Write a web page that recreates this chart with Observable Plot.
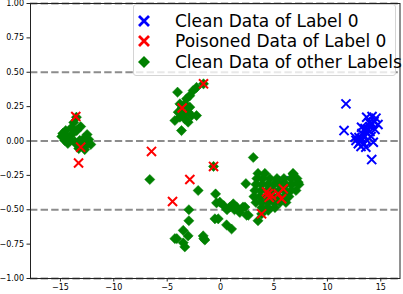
<!DOCTYPE html>
<html>
<head>
<meta charset="utf-8">
<script src="https://cdn.jsdelivr.net/npm/d3@7"></script>
<script src="https://cdn.jsdelivr.net/npm/@observablehq/plot@0.6"></script>
<style>
  html, body { margin: 0; padding: 0; background: #fff; }
  #wrap { position: relative; width: 403px; height: 294px; }
  #legend {
    position: absolute; left: 133px; top: 4px; width: 263px; height: 72px;
    border: 1px solid #d4d4d4; border-radius: 3px; background: rgba(255,255,255,0.8);
    font-family: "DejaVu Sans", sans-serif; font-size: 17px; color: #000;
    box-sizing: border-box;
  }
  .row { position: absolute; left: 0; height: 20px; display: flex; align-items: center; }
  .row svg { position: absolute; left: 3px; }
  .row span { position: absolute; left: 41px; white-space: nowrap; line-height: 20px; }
</style>
</head>
<body>
<div id="wrap"></div>
<script>
// ---- data ----
const seriesNames = ["Clean Data of Label 0", "Poisoned Data of Label 0", "Clean Data of other Labels"];
const seriesColors = ["#0000ff", "#ff0000", "#008000"];

const cleanLabel0 = [
  [11.74,0.27],[11.56,0.076],[13.68,0.173],[14.55,0.166],[13.2,0.1],[12.59,0.028],
  [12.9,-0.02],[13.6,-0.045],[14.3,-0.009],[14.15,-0.135],
  [13.05,-0.004],[13.24,0.018],[13.43,0.04],[13.62,0.062],[13.8,0.084],[13.99,0.105],
  [14.18,0.127],[14.37,0.142],[13.52,0.091],[13.99,0.069],[13.24,0.055],[12.96,0.025],
  [13.71,0.004],[13.43,-0.018],[14.09,0.033],[14.46,0.084],[14.74,0.12],[13.9,0.135],
  [12.68,0.004],[13.15,-0.04],[14.18,0.178],[5.87,-0.29]
];

const poisonedLabel0 = [
  [-13.56,0.178],[-13.1,-0.045],[-13.3,-0.16],[-3.6,0.24],[-1.6,0.416],[-6.47,-0.076],
  [-0.66,-0.185],[-2.88,-0.28],[-4.5,-0.44],[3.84,-0.53],[4.46,-0.384],[4.78,-0.396],
  [4.3,-0.37],[4.55,-0.41],[5.4,-0.384],[5.72,-0.42],[5.87,-0.348]
];

const cleanOther = [
  // left cluster
  [-13.5,0.173],[-13.75,0.135],[-13.94,0.098],[-14.5,0.076],[-14.78,0.055],[-14.87,0.033],
  [-14.4,0.025],[-13.94,0.047],[-13.47,0.076],[-13.1,0.105],[-14.1,0.004],[-13.66,-0.004],
  [-13.19,0.004],[-12.8,0.018],[-12.5,0.047],[-12.34,0.011],[-12.15,-0.025],[-12.62,-0.033],
  [-13.0,-0.025],[-13.47,-0.025],[-14.3,-0.018],[-14.6,0.004],[-13.28,-0.055],[-12.72,-0.062],
  [-14.5,0.04],
  // upper middle cluster
  [-2.25,0.39],[-2.57,0.367],[-2.88,0.33],[-3.19,0.307],[-4.03,0.355],[-1.6,0.416],
  [-3.81,0.27],[-3.35,0.27],[-3.97,0.21],[-3.5,0.198],[-3.04,0.21],[-2.88,0.246],
  [-3.81,0.173],[-3.35,0.16],[-2.72,0.185],[-2.25,0.185],[-4.28,0.149],[-3.04,0.137],
  [-3.66,0.076],[-3.6,0.24],
  // scattered
  [-0.66,-0.185],[3.06,-0.12],[-6.63,-0.28],[-2.1,-0.36],[-0.47,-0.385],[-2.97,-0.5],
  [-2.97,-0.58],[2.37,-0.31],[3.5,-0.58],
  // lower left cluster
  [-3.5,-0.65],[-4.1,-0.71],[-3.35,-0.77],[-3.04,-0.69],[-3.5,-0.74],[-4.28,-0.71],
  [-1.57,-0.71],[-1.63,-0.69],[-1.47,-0.72],
  // lower band
  [-0.22,-0.566],[0.56,-0.61],[1.03,-0.64],[-0.07,-0.445],[0.87,-0.48],[1.5,-0.48],
  [2.28,-0.48],[2.44,-0.54],[1.19,-0.457],[2.1,-0.48],[1.8,-0.52],[-0.53,-0.566],
  [0.3,-0.47],[0.6,-0.5],[1.3,-0.5],[-0.38,-0.45],
  // right mass
  [3.5,-0.236],[4.15,-0.236],[6.78,-0.236],
  [3.4,-0.273],[3.96,-0.273],[4.62,-0.273],[5.28,-0.273],[5.93,-0.273],[6.59,-0.273],[7.15,-0.273],
  [3.31,-0.316],[3.87,-0.316],[4.43,-0.316],[5.0,-0.316],[5.56,-0.316],[6.12,-0.316],[6.68,-0.316],[7.34,-0.316],
  [3.21,-0.36],[3.78,-0.36],[4.34,-0.36],[4.9,-0.36],[5.46,-0.36],[6.03,-0.36],[6.59,-0.36],[7.06,-0.36],
  [3.12,-0.404],[3.68,-0.404],[4.25,-0.404],[4.81,-0.404],[5.37,-0.404],[5.93,-0.404],[6.4,-0.404],
  [3.31,-0.447],[3.87,-0.447],[4.43,-0.447],[5.0,-0.447],[5.56,-0.447],[6.12,-0.447],
  [3.87,-0.484],[4.43,-0.484],[5.09,-0.484],
  [6.8,-0.24],[7.27,-0.30],[4.46,-0.505],[2.6,-0.54],[3.84,-0.53]
];

const xTicks = [-15, -10, -5, 0, 5, 10, 15];
const yTicks = [-1, -0.75, -0.5, -0.25, 0, 0.25, 0.5, 0.75, 1];
const dashedLevels = [-1, -0.5, 0, 0.5, 1];

const minus = s => s.replace("-", "\u2212");

const plot = Plot.plot({
  width: 403,
  height: 294,
  marginLeft: 30,
  marginRight: 3.5,
  marginTop: 3,
  marginBottom: 16,
  style: { fontFamily: "DejaVu Sans, sans-serif", fontSize: "8px", color: "#000", background: "#fff" },
  x: { domain: [-17.8, 16.8] },
  y: { domain: [-1, 1] },
  marks: [
    Plot.ruleY(dashedLevels, { stroke: "#8c8c8c", strokeWidth: 2, strokeDasharray: "7.4,3.2" }),
    Plot.dot(cleanLabel0, { x: d => d[0], y: d => d[1], symbol: "times", r: 4.2, stroke: seriesColors[0], strokeWidth: 2 }),
    Plot.dot(cleanOther, { x: d => d[0], y: d => d[1], symbol: "diamond2", r: 4.6, fill: seriesColors[2], stroke: seriesColors[2], strokeWidth: 0.5 }),
    Plot.dot(poisonedLabel0, { x: d => d[0], y: d => d[1], symbol: "times", r: 4.2, stroke: seriesColors[1], strokeWidth: 2 }),
    Plot.frame({ stroke: "#222", strokeWidth: 1 }),
    Plot.axisX({ ticks: xTicks, tickSize: 3.5, tickPadding: 2, tickFormat: d => minus(String(d)), label: null, stroke: "#222" }),
    Plot.axisY({ ticks: yTicks, tickSize: 3.5, tickPadding: 3, tickFormat: d => minus(d.toFixed(2)), label: null, stroke: "#222" })
  ]
});

const wrap = document.getElementById("wrap");
wrap.appendChild(plot);

// legend (HTML overlay, real text)
const legend = document.createElement("div");
legend.id = "legend";
const rowTops = [6, 26, 47];
seriesNames.forEach((name, i) => {
  const row = document.createElement("div");
  row.className = "row";
  row.style.top = rowTops[i] + "px";
  const c = seriesColors[i];
  const icon = i < 2
    ? `<svg width="14" height="14" viewBox="-7 -7 14 14"><path d="M-5,-5L5,5M-5,5L5,-5" stroke="${c}" stroke-width="2.8"/></svg>`
    : `<svg width="14" height="14" viewBox="-7 -7 14 14"><path d="M0,-6L6,0L0,6L-6,0Z" fill="${c}"/></svg>`;
  row.innerHTML = icon + `<span>${name}</span>`;
  legend.appendChild(row);
});
wrap.appendChild(legend);
</script>
</body>
</html>
